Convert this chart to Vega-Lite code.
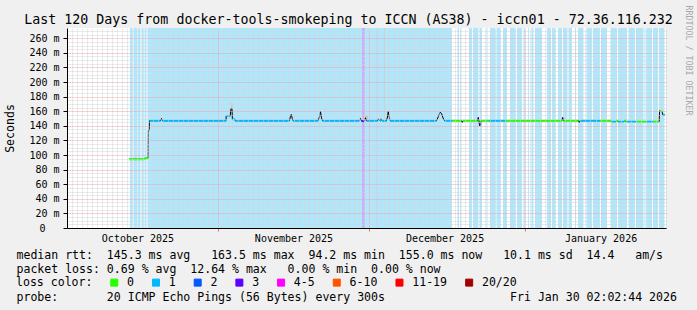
{
  "$schema": "https://vega.github.io/schema/vega-lite/v6.json",
  "width": 599,
  "height": 200,
  "autosize": {"type": "none"},
  "padding": {"left": 67, "top": 28, "right": 31, "bottom": 82},
  "background": "#f0f0f0",
  "config": {"view": {"fill": "#ffffff", "stroke": null}, "font": "DejaVu Sans Mono"},
  "title": {
    "text": "Last 120 Days from docker-tools-smokeping to ICCN (AS38) - iccn01 - 72.36.116.232",
    "font": "DejaVu Sans Mono", "fontSize": 13.3, "fontWeight": "normal", "color": "#000000",
    "anchor": "middle", "dx": -18, "offset": -21
  },
  "datasets": {
    "bands": [
      {"t":"2025-10-14T12:22","t2":"2025-10-15T00:17","loss":"1"},
      {"t":"2025-10-15T05:02","t2":"2025-10-15T21:43","loss":"1"},
      {"t":"2025-10-16T02:29","t2":"2025-10-16T14:25","loss":"1"},
      {"t":"2025-10-16T19:11","t2":"2025-10-17T04:43","loss":"1"},
      {"t":"2025-10-17T09:29","t2":"2025-10-17T19:02","loss":"1"},
      {"t":"2025-10-17T23:47","t2":"2025-11-29T14:24","loss":"1"},
      {"t":"2025-11-29T14:24","t2":"2025-11-30T04:48","loss":"3"},
      {"t":"2025-11-30T04:48","t2":"2025-12-02T11:31","loss":"1"},
      {"t":"2025-12-02T11:31","t2":"2025-12-02T16:19","loss":"2"},
      {"t":"2025-12-02T16:19","t2":"2025-12-17T11:30","loss":"1"},
      {"t":"2025-12-18T13:45","t2":"2025-12-18T20:53","loss":"1"},
      {"t":"2025-12-19T04:02","t2":"2025-12-19T08:48","loss":"1"},
      {"t":"2025-12-20T20:34","t2":"2025-12-21T10:52","loss":"1"},
      {"t":"2025-12-21T15:37","t2":"2025-12-22T17:51","loss":"1"},
      {"t":"2025-12-22T22:38","t2":"2025-12-23T10:34","loss":"1"},
      {"t":"2025-12-24T08:00","t2":"2025-12-24T12:46","loss":"1"},
      {"t":"2025-12-25T00:42","t2":"2025-12-26T02:54","loss":"1"},
      {"t":"2025-12-26T07:41","t2":"2025-12-27T02:44","loss":"1"},
      {"t":"2025-12-27T14:40","t2":"2025-12-28T09:45","loss":"1"},
      {"t":"2025-12-29T00:03","t2":"2025-12-30T02:15","loss":"1"},
      {"t":"2025-12-30T09:24","t2":"2025-12-31T09:14","loss":"1"},
      {"t":"2025-12-31T16:24","t2":"2025-12-31T23:33","loss":"1"},
      {"t":"2026-01-01T13:51","t2":"2026-01-01T18:37","loss":"1"},
      {"t":"2026-01-02T06:32","t2":"2026-01-02T16:05","loss":"1"},
      {"t":"2026-01-02T23:14","t2":"2026-01-04T08:36","loss":"1"},
      {"t":"2026-01-05T08:27","t2":"2026-01-06T03:30","loss":"1"},
      {"t":"2026-01-06T08:17","t2":"2026-01-07T00:58","loss":"1"},
      {"t":"2026-01-07T12:53","t2":"2026-01-08T07:57","loss":"1"},
      {"t":"2026-01-08T12:43","t2":"2026-01-09T10:11","loss":"1"},
      {"t":"2026-01-09T14:57","t2":"2026-01-10T07:38","loss":"1"},
      {"t":"2026-01-10T21:56","t2":"2026-01-11T02:41","loss":"1"},
      {"t":"2026-01-11T12:14","t2":"2026-01-12T14:27","loss":"1"},
      {"t":"2026-01-13T04:45","t2":"2026-01-14T06:59","loss":"1"},
      {"t":"2026-01-14T11:44","t2":"2026-01-15T21:07","loss":"1"},
      {"t":"2026-01-16T01:54","t2":"2026-01-17T06:30","loss":"1"},
      {"t":"2026-01-17T23:11","t2":"2026-01-19T06:10","loss":"1"},
      {"t":"2026-01-19T10:57","t2":"2026-01-21T05:50","loss":"1"},
      {"t":"2026-01-21T12:59","t2":"2026-01-22T19:59","loss":"1"},
      {"t":"2026-01-23T00:45","t2":"2026-01-24T12:30","loss":"1"},
      {"t":"2026-01-24T17:17","t2":"2026-01-24T22:02","loss":"1"},
      {"t":"2026-01-25T02:48","t2":"2026-01-26T05:02","loss":"1"},
      {"t":"2026-01-26T09:48","t2":"2026-01-27T09:39","loss":"1"},
      {"t":"2026-01-27T14:24","t2":"2026-01-28T16:38","loss":"1"}
    ],
    "smoke": [
      {"t":"2025-11-03T13:52","t2":"2025-11-03T21:59","lo":163.5,"hi":171},
      {"t":"2025-11-30T02:21","t2":"2025-11-30T19:02","lo":147,"hi":155},
      {"t":"2025-12-03T23:20","t2":"2025-12-04T04:05","lo":150,"hi":274}
    ],
    "median": [
      {"t":"2025-10-14T07:35","v":94.2},
      {"t":"2025-10-17T07:06","v":94.2},
      {"t":"2025-10-17T11:53","v":95.5},
      {"t":"2025-10-17T16:38","v":94.5},
      {"t":"2025-10-17T21:24","v":96},
      {"t":"2025-10-18T03:07","v":96},
      {"t":"2025-10-18T04:05","v":134},
      {"t":"2025-10-18T07:54","v":134},
      {"t":"2025-10-18T08:51","v":147},
      {"t":"2025-10-20T13:46","v":147},
      {"t":"2025-10-20T18:32","v":150},
      {"t":"2025-10-20T23:18","v":147},
      {"t":"2025-11-02T14:02","v":147},
      {"t":"2025-11-02T15:00","v":153.4},
      {"t":"2025-11-03T10:03","v":153.4},
      {"t":"2025-11-03T13:52","v":163.5},
      {"t":"2025-11-03T18:39","v":163.5},
      {"t":"2025-11-03T20:34","v":149},
      {"t":"2025-11-04T08:57","v":149},
      {"t":"2025-11-04T09:55","v":147},
      {"t":"2025-11-15T04:47","v":147},
      {"t":"2025-11-15T09:33","v":153},
      {"t":"2025-11-15T13:22","v":155.5},
      {"t":"2025-11-15T18:09","v":150},
      {"t":"2025-11-15T21:29","v":147},
      {"t":"2025-11-20T20:40","v":147},
      {"t":"2025-11-21T03:49","v":152},
      {"t":"2025-11-21T08:35","v":159.5},
      {"t":"2025-11-21T13:21","v":151},
      {"t":"2025-11-21T18:07","v":147},
      {"t":"2025-11-29T02:31","v":147},
      {"t":"2025-11-29T07:18","v":150},
      {"t":"2025-11-29T12:03","v":147},
      {"t":"2025-11-29T21:36","v":145.5},
      {"t":"2025-11-30T02:21","v":147},
      {"t":"2025-11-30T07:08","v":151},
      {"t":"2025-11-30T11:53","v":147},
      {"t":"2025-12-02T16:21","v":147},
      {"t":"2025-12-02T21:06","v":149.5},
      {"t":"2025-12-03T01:52","v":147},
      {"t":"2025-12-03T09:01","v":149.5},
      {"t":"2025-12-03T13:47","v":147},
      {"t":"2025-12-04T11:14","v":147},
      {"t":"2025-12-04T16:00","v":152},
      {"t":"2025-12-04T19:49","v":159.5},
      {"t":"2025-12-05T00:36","v":152},
      {"t":"2025-12-05T03:56","v":147},
      {"t":"2025-12-14T09:37","v":147},
      {"t":"2025-12-14T19:09","v":153},
      {"t":"2025-12-15T02:18","v":158.5},
      {"t":"2025-12-15T09:27","v":157},
      {"t":"2025-12-15T16:36","v":151},
      {"t":"2025-12-15T23:46","v":147},
      {"t":"2025-12-19T08:48","v":147},
      {"t":"2025-12-19T12:37","v":144.3},
      {"t":"2025-12-19T15:58","v":147},
      {"t":"2025-12-22T13:05","v":147},
      {"t":"2025-12-22T16:54","v":151.5},
      {"t":"2025-12-22T20:14","v":147},
      {"t":"2025-12-22T22:38","v":140},
      {"t":"2025-12-23T03:23","v":140},
      {"t":"2025-12-23T05:47","v":147},
      {"t":"2026-01-08T07:57","v":147},
      {"t":"2026-01-08T11:17","v":151.5},
      {"t":"2026-01-08T15:06","v":147},
      {"t":"2026-01-11T14:37","v":147},
      {"t":"2026-01-11T18:26","v":144.3},
      {"t":"2026-01-11T21:46","v":147},
      {"t":"2026-01-18T01:34","v":147},
      {"t":"2026-01-18T06:20","v":145.5},
      {"t":"2026-01-19T01:24","v":145.5},
      {"t":"2026-01-19T06:10","v":147},
      {"t":"2026-01-19T13:19","v":145.5},
      {"t":"2026-01-20T15:32","v":145.5},
      {"t":"2026-01-20T20:18","v":147},
      {"t":"2026-01-21T03:27","v":145.6},
      {"t":"2026-01-27T15:22","v":145.6},
      {"t":"2026-01-27T17:17","v":160.7},
      {"t":"2026-01-28T04:42","v":160},
      {"t":"2026-01-28T08:31","v":155},
      {"t":"2026-01-28T19:00","v":155}
    ],
    "segments": [
      {"t":"2025-10-14T07:35","t2":"2025-10-17T07:06","v":94.2,"loss":"0"},
      {"t":"2025-10-17T07:06","t2":"2025-10-17T16:38","v":95.3,"loss":"0"},
      {"t":"2025-10-17T16:38","t2":"2025-10-18T03:07","v":95.8,"loss":"0"},
      {"t":"2025-10-18T08:51","t2":"2025-10-20T13:46","v":147,"loss":"1"},
      {"t":"2025-10-20T23:18","t2":"2025-11-02T14:02","v":147,"loss":"1"},
      {"t":"2025-11-02T15:00","t2":"2025-11-03T10:03","v":153.4,"loss":"1"},
      {"t":"2025-11-03T20:34","t2":"2025-11-04T08:57","v":149,"loss":"1"},
      {"t":"2025-11-04T09:55","t2":"2025-11-15T04:47","v":147,"loss":"1"},
      {"t":"2025-11-15T21:29","t2":"2025-11-20T20:40","v":147,"loss":"1"},
      {"t":"2025-11-21T18:07","t2":"2025-11-29T02:31","v":147,"loss":"1"},
      {"t":"2025-11-29T12:03","t2":"2025-11-29T21:36","v":146.3,"loss":"3"},
      {"t":"2025-11-30T11:53","t2":"2025-12-02T16:21","v":147,"loss":"1"},
      {"t":"2025-12-03T01:52","t2":"2025-12-03T09:01","v":147,"loss":"1"},
      {"t":"2025-12-03T13:47","t2":"2025-12-04T11:14","v":147,"loss":"1"},
      {"t":"2025-12-05T03:56","t2":"2025-12-14T09:37","v":147,"loss":"1"},
      {"t":"2025-12-15T23:46","t2":"2025-12-17T11:30","v":147,"loss":"1"},
      {"t":"2025-12-17T11:30","t2":"2025-12-19T08:48","v":147,"loss":"0"},
      {"t":"2025-12-19T15:58","t2":"2025-12-22T13:05","v":147,"loss":"0"},
      {"t":"2025-12-23T05:47","t2":"2025-12-24T19:55","v":147,"loss":"0"},
      {"t":"2025-12-24T19:55","t2":"2025-12-28T00:11","v":147,"loss":"1"},
      {"t":"2025-12-28T00:11","t2":"2026-01-08T07:57","v":147,"loss":"0"},
      {"t":"2026-01-08T15:06","t2":"2026-01-11T14:37","v":147,"loss":"0"},
      {"t":"2026-01-11T21:46","t2":"2026-01-15T21:07","v":147,"loss":"1"},
      {"t":"2026-01-15T21:07","t2":"2026-01-18T01:34","v":147,"loss":"0"},
      {"t":"2026-01-18T06:20","t2":"2026-01-19T01:24","v":145.5,"loss":"1"},
      {"t":"2026-01-19T01:24","t2":"2026-01-19T13:19","v":147,"loss":"0"},
      {"t":"2026-01-19T13:19","t2":"2026-01-20T15:32","v":145.5,"loss":"1"},
      {"t":"2026-01-20T15:32","t2":"2026-01-21T03:27","v":147,"loss":"0"},
      {"t":"2026-01-21T03:27","t2":"2026-01-23T00:45","v":145.6,"loss":"1"},
      {"t":"2026-01-23T00:45","t2":"2026-01-25T05:11","v":145.6,"loss":"0"},
      {"t":"2026-01-25T05:11","t2":"2026-01-26T09:48","v":145.6,"loss":"1"},
      {"t":"2026-01-26T09:48","t2":"2026-01-27T15:22","v":145.6,"loss":"0"},
      {"t":"2026-01-27T17:17","t2":"2026-01-28T04:42","v":160.3,"loss":"0"},
      {"t":"2026-01-28T08:31","t2":"2026-01-28T19:00","v":155,"loss":"1"}
    ]
  },
  "layer": [
    {
      "data": {"name": "bands"},
      "mark": {"type": "rect", "opacity": 0.32},
      "encoding": {
        "x": {
          "field": "t",
          "type": "temporal",
          "scale": {"domain": [{"year": 2025, "month": 10, "date": 2}, {"year": 2026, "month": 1, "date": 29}], "nice": false},
          "axis": {
            "orient": "bottom",
            "tickCount": {"interval": "day", "step": 1},
            "labelExpr": "date(datum.value) === 16 ? timeFormat(datum.value, '%B %Y') : ''",
            "labelOverlap": false,
            "labelFlush": false,
            "labelAngle": 0,
            "labelFont": "DejaVu Sans Mono",
            "labelFontSize": 10,
            "labelColor": "#000000",
            "labelPadding": 2,
            "tickSize": 3,
            "tickColor": {"condition": {"test": "date(datum.value) === 1", "value": "#e07070"}, "value": "#000000"},
            "tickOpacity": {"condition": {"test": "date(datum.value) === 1", "value": 1}, "value": 0},
            "grid": true,
            "gridColor": {"condition": {"test": "date(datum.value) === 1", "value": "#f0a4a4"}, "value": "#d4d4d4"},
            "gridDash": [1, 1],
            "domainColor": "#000000",
            "zindex": 1,
            "title": [
              "median rtt:\u00a0\u00a0145.3 ms avg\u00a0\u00a0\u00a0163.5 ms max\u00a0\u00a094.2 ms min\u00a0\u00a0155.0 ms now\u00a0\u00a0\u00a010.1 ms sd\u00a0\u00a014.4\u00a0\u00a0\u00a0am/s",
              "packet loss: 0.69 % avg\u00a0\u00a012.64 % max\u00a0\u00a0\u00a00.00 % min\u00a0\u00a00.00 % now"
            ],
            "titleFont": "DejaVu Sans Mono",
            "titleFontSize": 11.55,
            "titleFontWeight": "normal",
            "titleColor": "#000000",
            "titleAlign": "left",
            "titleAnchor": "start",
            "titleBaseline": "top",
            "titleX": -51,
            "titleY": 21,
            "titleLineHeight": 14
          }
        },
        "x2": {"field": "t2"},
        "color": {
          "field": "loss",
          "type": "nominal",
          "scale": {
            "domain": ["0", "1", "2", "3", "4-5", "6-10", "11-19", "20/20"],
            "range": ["#26ff00", "#00b8ff", "#0059ff", "#5e00ff", "#ff00ff", "#ff5500", "#ff0000", "#a00000"]
          },
          "legend": {
            "orient": "none",
            "legendX": -51,
            "legendY": 248.5,
            "direction": "horizontal",
            "columns": 8,
            "gridAlign": "each",
            "title": "loss color:",
            "titleOrient": "left",
            "titleFont": "DejaVu Sans Mono",
            "titleFontSize": 11.55,
            "titleFontWeight": "normal",
            "titleColor": "#000000",
            "titlePadding": 15.5,
            "titleBaseline": "middle",
            "labelFont": "DejaVu Sans Mono",
            "labelFontSize": 11.55,
            "labelColor": "#000000",
            "labelOffset": 7,
            "columnPadding": 15.7,
            "symbolType": "square",
            "symbolSize": 49,
            "symbolStrokeColor": "#000000",
            "symbolStrokeWidth": 1,
            "symbolOpacity": 1,
            "padding": 0
          }
        }
      }
    },
    {
      "data": {"name": "smoke"},
      "mark": {"type": "rect", "color": "#c8c8c8"},
      "encoding": {
        "x": {
          "field": "t",
          "type": "temporal",
          "scale": {"domain": [{"year": 2025, "month": 10, "date": 2}, {"year": 2026, "month": 1, "date": 29}], "nice": false},
          "axis": {
            "orient": "bottom",
            "title": "probe:\u00a0\u00a0\u00a0\u00a0\u00a0\u00a0\u00a020 ICMP Echo Pings (56 Bytes) every 300s\u00a0\u00a0\u00a0\u00a0\u00a0\u00a0\u00a0\u00a0\u00a0\u00a0\u00a0\u00a0\u00a0\u00a0\u00a0\u00a0\u00a0\u00a0Fri Jan 30 02:02:44 2026",
            "titleFont": "DejaVu Sans Mono",
            "titleFontSize": 11.55,
            "titleFontWeight": "normal",
            "titleColor": "#000000",
            "titleAlign": "left",
            "titleAnchor": "start",
            "titleBaseline": "top",
            "titleX": -51,
            "titleY": 63,
            "labels": false,
            "ticks": false,
            "domain": false,
            "grid": false
          }
        },
        "x2": {"field": "t2"},
        "y": {
          "field": "lo",
          "type": "quantitative",
          "scale": {"domain": [0, 274], "nice": false},
          "axis": {
            "orient": "right",
            "title": "RRDTOOL / TOBI OETIKER",
            "titleAngle": 90,
            "titleFont": "DejaVu Sans Mono",
            "titleFontSize": 8.3,
            "titleFontWeight": "normal",
            "titleColor": "#a8a8a8",
            "titleX": 21,
            "titleY": 32,
            "titleAlign": "center",
            "titleBaseline": "middle",
            "labels": false,
            "ticks": false,
            "domain": false,
            "grid": false
          }
        },
        "y2": {"field": "hi"}
      }
    },
    {
      "data": {"name": "median"},
      "mark": {"type": "line", "color": "#000000", "strokeWidth": 1},
      "encoding": {
        "x": {"field": "t", "type": "temporal", "axis": null},
        "y": {
          "field": "v",
          "type": "quantitative",
          "scale": {"domain": [0, 274], "nice": false},
          "axis": {
            "orient": "left",
            "values": [0,5,10,15,20,25,30,35,40,45,50,55,60,65,70,75,80,85,90,95,100,105,110,115,120,125,130,135,140,145,150,155,160,165,170,175,180,185,190,195,200,205,210,215,220,225,230,235,240,245,250,255,260,265,270],
            "labelExpr": "datum.value % 20 === 0 ? (datum.value === 0 ? '0\u2800\u2800' : datum.value + ' m') : ''",
            "labelOverlap": false,
            "labelFlush": false,
            "labelFont": "DejaVu Sans Mono",
            "labelFontSize": 10,
            "labelColor": "#000000",
            "labelPadding": 4,
            "labelBaseline": "middle",
            "tickSize": 4,
            "tickColor": "#000000",
            "tickOpacity": {"condition": {"test": "datum.value % 20 === 0", "value": 1}, "value": 0},
            "grid": true,
            "gridColor": {"condition": {"test": "datum.value % 20 === 0", "value": "#f0a4a4"}, "value": "#d4d4d4"},
            "gridDash": [1, 1],
            "domainColor": "#000000",
            "zindex": 1,
            "title": "Seconds",
            "titleFont": "DejaVu Sans Mono",
            "titleFontSize": 11.55,
            "titleFontWeight": "normal",
            "titleColor": "#000000",
            "titleAngle": -90,
            "titleX": -57,
            "titleY": 100,
            "titleAlign": "center",
            "titleBaseline": "middle"
          }
        }
      }
    },
    {
      "data": {"name": "segments"},
      "mark": {"type": "rule", "strokeWidth": 2},
      "encoding": {
        "x": {"field": "t", "type": "temporal", "axis": null},
        "x2": {"field": "t2"},
        "y": {"field": "v", "type": "quantitative", "scale": {"domain": [0, 274], "nice": false}, "axis": null},
        "color": {
          "field": "loss",
          "type": "nominal",
          "scale": {
            "domain": ["0", "1", "2", "3", "4-5", "6-10", "11-19", "20/20"],
            "range": ["#26ff00", "#00b8ff", "#0059ff", "#5e00ff", "#ff00ff", "#ff5500", "#ff0000", "#a00000"]
          },
          "legend": null
        }
      }
    }
  ],
  "resolve": {"axis": {"x": "independent", "y": "independent"}}
}
